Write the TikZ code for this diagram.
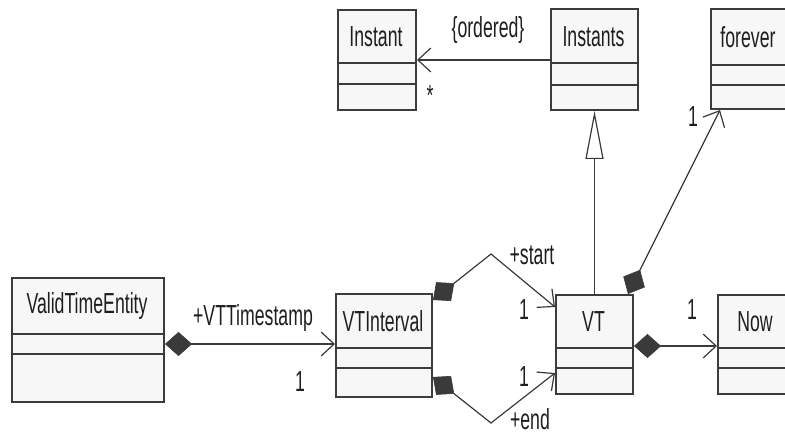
\documentclass[tikz,border=0pt]{standalone}
\usepackage{fontspec}
\setmainfont[FakeStretch=0.61]{Liberation Sans}
\usetikzlibrary{arrows.meta}

\definecolor{boxline}{HTML}{3C3C3C}
\definecolor{boxfill}{HTML}{F7F7F7}
\definecolor{wire}{HTML}{3A3A3A}
\definecolor{ink}{HTML}{1E1E1E}

\tikzset{
  classbox/.style={draw=boxline, fill=boxfill, line width=2pt, inner sep=0pt,
    anchor=north west, rectangle},
  divider/.style={draw=boxline, line width=2pt},
  classname/.style={text=ink, inner sep=0pt, font=\fontsize{29}{32}\selectfont},
  lbl/.style={text=ink, inner sep=0pt, font=\fontsize{29}{32}\selectfont},
  wireline/.style={draw=wire, line width=1.2pt},
  assoc/.style={wireline, -{Straight Barb[length=13pt,width=24pt,line width=1.2pt]}},
  comp/.style={wireline,
    {Diamond[length=27pt,width=24pt,fill=wire,line width=0.6pt]}-{Straight Barb[length=13pt,width=24pt,line width=1.2pt]}},
  gen/.style={wireline, -{Triangle[length=48pt,width=18pt,fill=white,line width=1.2pt]}},
}

% class box: name, left, top, right, bottom, first divider, second divider, title
\newcommand\umlclass[8]{%
  \node[classbox, minimum width={#4-#2}, minimum height={#5-#3}] (#1) at (#2,#3) {};
  \draw[divider] (#1.west |- 0,#6) -- (#1.east |- 0,#6);
  \draw[divider] (#1.west |- 0,#7) -- (#1.east |- 0,#7);
  \node[classname] (#1-name) at ({(#2+#4)/2},{(#3+#6)/2+1}) {#8};
}

\begin{document}
\begin{tikzpicture}[x=1pt, y=-1pt]
  \clip (0,0) rectangle (785,435);
  \fill[white] (0,0) rectangle (785,435);

  % classes
  \umlclass{instant}{337}{9}{415}{109}{63}{84}{Instant}
  \umlclass{instants}{550}{8}{637}{109}{63}{85}{Instants}
  \umlclass{forever}{710}{8}{786}{108}{65}{85}{forever}
  \umlclass{vte}{11}{277}{163}{401}{334}{354}{ValidTimeEntity}
  \umlclass{vti}{335}{293}{431}{396}{348}{368}{VTInterval}
  \umlclass{vt}{555}{294}{632}{393}{348}{368}{VT}
  \umlclass{now}{717}{294}{793}{393}{348}{368}{Now}

  % Instants -> Instant
  \draw[assoc] (instants.west |- 0,60) -- (instant.east |- 0,60);
  \node[lbl] (l-ordered) at (488,30) {\{ordered\}};
  \node[lbl] (l-star) at (430,96) {*};

  % VT generalises Instants
  \draw[gen] (vt.north) -- (instants.south);

  % VT -> forever
  \draw[comp] (vt.north -| 628,0) -- (forever.south -| 720,0);
  \node[lbl] (l-forever) at (693,117) {1};

  % ValidTimeEntity -> VTInterval
  \draw[comp] (vte.east |- 0,344) -- (vti.west |- 0,344);
  \node[lbl] (l-ts) at (253,318) {+VTTimestamp};
  \node[lbl] (l-ts1) at (300,382) {1};

  % VTInterval -> VT (start / end)
  \coordinate (bstart) at (491,254);
  \coordinate (bend) at (491,423);
  \draw[comp] (vti.east |- 0,300) -- (bstart) -- (vt.west |- 0,307);
  \draw[comp] (vti.east |- 0,377) -- (bend) -- (vt.west |- 0,373);
  \node[lbl] (l-start) at (532,255) {+start};
  \node[lbl] (l-start1) at (524,310) {1};
  \node[lbl] (l-end) at (530,419) {+end};
  \node[lbl] (l-end1) at (524,377) {1};

  % VT -> Now
  \draw[comp] (vt.east |- 0,346) -- (now.west |- 0,346);
  \node[lbl] (l-now) at (692,310) {1};
\end{tikzpicture}
\end{document}
